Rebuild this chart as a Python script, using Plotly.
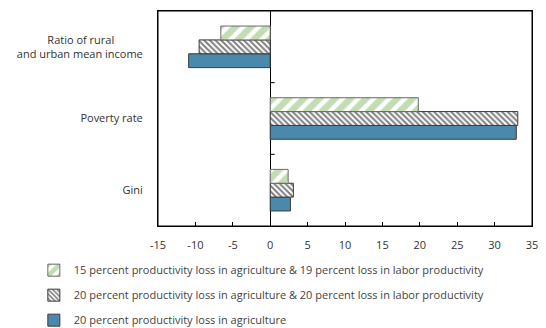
####################################################################################################################
# plot.py
#
# horizontal grouped bars - distributional effects of productivity losses

import plotly.graph_objects as go

####################################################################################################################
# DATA
categories = ['Gini', 'Poverty rate', 'Ratio of rural and urban mean income']  # bottom to top
cat_labels = ['Gini', 'Poverty rate',
              'Ratio of rural' + '\u00a0' * 10 + '<br>and urban mean income']

s_agri = [2.7, 32.9, -10.9]       # 20 percent productivity loss in agriculture
s_agri_lab20 = [3.1, 33.1, -9.5]  # 20% agri & 20% labor
s_agri_lab19 = [2.4, 19.8, -6.6]  # 15% agri & 19% labor

names = ['20 percent productivity loss in agriculture',
         '20 percent productivity loss in agriculture & 20 percent loss in labor productivity',
         '15 percent productivity loss in agriculture & 19 percent loss in labor productivity']

x_ticks = [-15, -10, -5, 0, 5, 10, 15, 20, 25, 30, 35]
x_ticktext = ['-15', '-10', '-5', '0', '5', '10', '15', '20', '25', '30', '35']

####################################################################################################################
# FIGURE
FONT = 'Open Sans'
edge = dict(color='#3a3a3a', width=1)

fig = go.Figure()
# first trace sits at the bottom of each group
fig.add_trace(go.Bar(y=categories, x=s_agri, name=names[0], orientation='h',
                     marker=dict(color='#4a89ab', line=edge), legendrank=3))
fig.add_trace(go.Bar(y=categories, x=s_agri_lab20, name=names[1], orientation='h',
                     marker=dict(color='white', line=edge,
                                 pattern=dict(shape='\\', fgcolor='black', bgcolor='white',
                                              size=4, solidity=0.5)), legendrank=2))
fig.add_trace(go.Bar(y=categories, x=s_agri_lab19, name=names[2], orientation='h',
                     marker=dict(color='white', line=dict(color='#6a6a6a', width=1),
                                 pattern=dict(shape='/', fgcolor='#86bb63', bgcolor='white',
                                              size=11, solidity=0.6)), legendrank=1))

# small ticks on the zero line between categories
for yb in [0.5, 1.5]:
    fig.add_shape(type='line', xref='x', yref='y', x0=0, x1=0.6, y0=yb, y1=yb,
                  line=dict(color='black', width=1))

# frame round the plot area
fig.add_shape(type='rect', xref='paper', yref='paper', x0=0, x1=1, y0=0, y1=1,
              line=dict(color='black', width=1), layer='above')

# page body has an 8px margin -> figure sits at (8, 8) and is 8px smaller than the window
fig.update_layout(
    width=538, height=320,
    margin=dict(l=149.5, r=13.5, t=3, b=102, autoexpand=False),
    plot_bgcolor='white', paper_bgcolor='white',
    barmode='group', bargap=0.42, bargroupgap=0,
    font=dict(family=FONT, size=11, color='#333333'),
    showlegend=True,
    legend=dict(x=-0.332, xanchor='left', y=-0.138, yanchor='top',
                font=dict(family=FONT, size=11, color='#444444'),
                tracegroupgap=6, itemwidth=30, bgcolor='rgba(0,0,0,0)'),
)
for i, tr in enumerate(fig.data):
    tr.legendgroup = 'g%d' % i

fig.update_xaxes(range=[-15, 35], tickvals=x_ticks, ticktext=x_ticktext, ticks='inside', ticklen=4,
                 tickcolor='black', showgrid=False, zeroline=True, zerolinecolor='black',
                 zerolinewidth=1, showline=True, linecolor='black', linewidth=1, mirror=True,
                 ticklabelstandoff=9, tickfont=dict(size=11, color='#333333'))
fig.update_yaxes(showgrid=False, ticks='', showline=True, linecolor='black', linewidth=1,
                 mirror=True, ticklabelstandoff=12, tickvals=categories, ticktext=cat_labels,
                 tickfont=dict(size=11, color='#333333'))

fig.write_html('out.html')
